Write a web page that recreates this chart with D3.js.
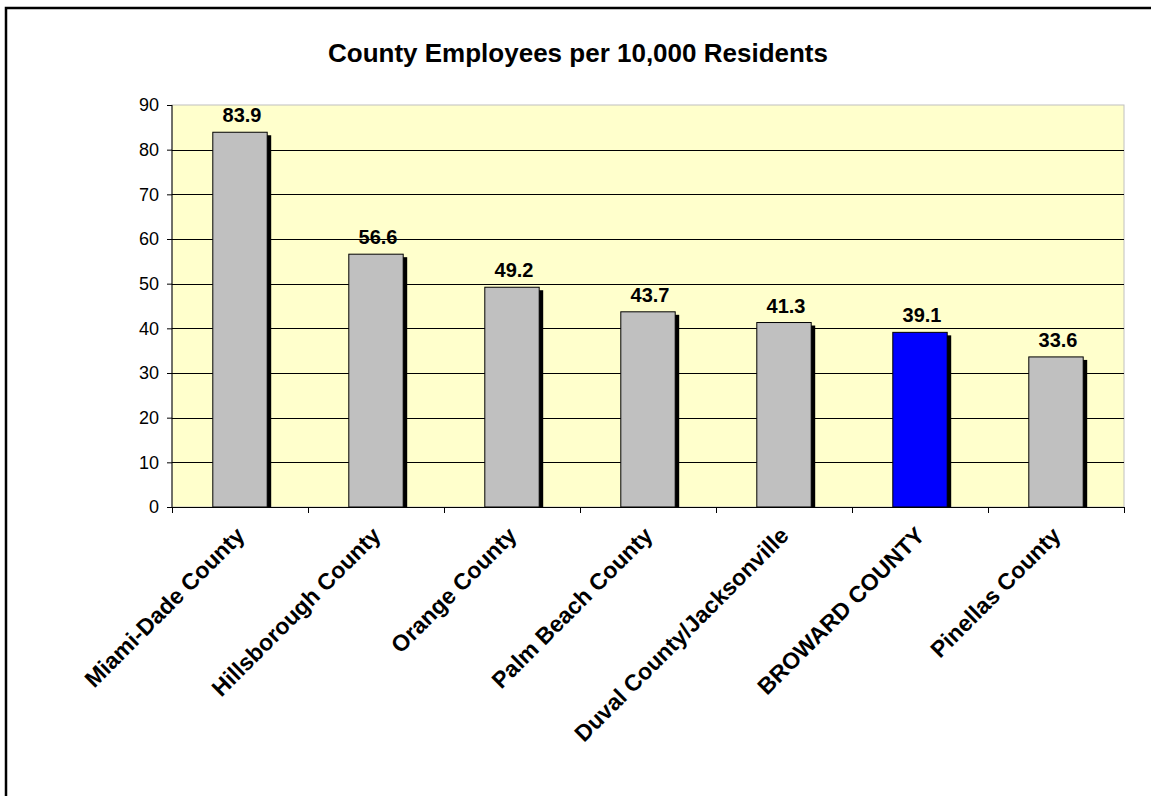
<!DOCTYPE html>
<html>
<head>
<meta charset="utf-8">
<script src="https://cdn.jsdelivr.net/npm/d3@7"></script>
<style>
  body { margin: 0; background: #fff; }
  svg { display: block; font-family: "Liberation Sans", Arial, sans-serif; }
</style>
</head>
<body>
<div id="chart"></div>
<script>
// chart data
var counties = ["Miami-Dade County", "Hillsborough County", "Orange County", "Palm Beach County",
                "Duval County/Jacksonville", "BROWARD COUNTY", "Pinellas County"];
var employees = [83.9, 56.6, 49.2, 43.7, 41.3, 39.1, 33.6];
var highlight = ["BROWARD COUNTY"];
var yTicks = [0, 10, 20, 30, 40, 50, 60, 70, 80, 90];
var title = "County Employees per 10,000 Residents";

var data = counties.map(function(c, i) { return { name: c, value: employees[i] }; });

var W = 1151, H = 796;
var margin = {top: 105, right: 27, bottom: 289, left: 172},
    width = W - margin.left - margin.right,
    height = H - margin.top - margin.bottom;

var root = d3.select("#chart").append("svg")
    .attr("width", W)
    .attr("height", H);

// outer chart border
root.append("rect")
    .attr("x", 6).attr("y", 8)
    .attr("width", 1300).attr("height", 1000)
    .attr("fill", "none")
    .attr("stroke", "#000")
    .attr("stroke-width", 2.5);

root.append("text")
    .attr("x", 578).attr("y", 62)
    .attr("text-anchor", "middle")
    .attr("font-size", 26)
    .attr("font-weight", "bold")
    .text(title);

var svg = root.append("g")
    .attr("transform", "translate(" + margin.left + "," + margin.top + ")");

var x = d3.scaleBand()
    .domain(counties)
    .range([0, width])
    .paddingInner(0.6)
    .paddingOuter(0.3);

var y = d3.scaleLinear()
    .domain([0, 90])
    .range([height, 0]);

// plot background
svg.append("rect")
    .attr("width", width).attr("height", height)
    .attr("fill", "#FFFFCC")
    .attr("stroke", "#C0C0C0")
    .attr("stroke-width", 1);

// gridlines
svg.append("g")
  .selectAll("line")
  .data(yTicks.filter(function(d) { return d > 0 && d < 90; }))
  .join("line")
    .attr("x1", 0).attr("x2", width)
    .attr("y1", function(d) { return Math.round(y(d)) + 0.5; })
    .attr("y2", function(d) { return Math.round(y(d)) + 0.5; })
    .attr("stroke", "#000")
    .attr("stroke-width", 1);

// shadows
svg.append("g")
  .selectAll("rect")
  .data(data)
  .join("rect")
    .attr("x", function(d) { return x(d.name) + 4; })
    .attr("y", function(d) { return y(d.value) + 3; })
    .attr("width", x.bandwidth())
    .attr("height", function(d) { return height - y(d.value) - 3; })
    .attr("fill", "#000");

// bars
svg.append("g")
  .selectAll("rect")
  .data(data)
  .join("rect")
    .attr("x", function(d) { return x(d.name); })
    .attr("y", function(d) { return y(d.value); })
    .attr("width", x.bandwidth())
    .attr("height", function(d) { return height - y(d.value); })
    .attr("fill", function(d) { return highlight.indexOf(d.name) >= 0 ? "#0000FF" : "#C0C0C0"; })
    .attr("stroke", "#000")
    .attr("stroke-width", 1);

// value labels
svg.append("g")
  .selectAll("text")
  .data(data)
  .join("text")
    .attr("x", function(d) { return x(d.name) + x.bandwidth() / 2 + 2; })
    .attr("y", function(d) { return y(d.value) - 10; })
    .attr("text-anchor", "middle")
    .attr("font-size", 20)
    .attr("font-weight", "bold")
    .text(function(d) { return d.value.toFixed(1); });

// Y axis
var yAxis = svg.append("g")
    .call(d3.axisLeft(y).tickValues(yTicks).tickSize(5).tickPadding(8));
yAxis.select(".domain").attr("stroke", "#000").attr("d", "M0," + height + "V0");
yAxis.selectAll("text").attr("font-size", 18).attr("font-family", "Liberation Sans, Arial, sans-serif").attr("fill", "#000");

// X axis: line + ticks at band boundaries
var bounds = d3.range(counties.length + 1).map(function(i) { return i * width / counties.length; });
var xAxis = svg.append("g").attr("transform", "translate(0," + height + ")");
xAxis.append("line")
    .attr("x1", 0).attr("x2", width)
    .attr("y1", 0.5).attr("y2", 0.5)
    .attr("stroke", "#000");
xAxis.selectAll(".tk")
  .data(bounds)
  .join("line")
    .attr("class", "tk")
    .attr("x1", function(d) { return Math.round(d) + 0.5; })
    .attr("x2", function(d) { return Math.round(d) + 0.5; })
    .attr("y1", 0).attr("y2", 6)
    .attr("stroke", "#000");

xAxis.selectAll(".lbl")
  .data(counties)
  .join("text")
    .attr("class", "lbl")
    .attr("transform", function(d) {
        return "translate(" + (x(d) + x.bandwidth() / 2 + 6) + ",30) rotate(-45)";
    })
    .attr("text-anchor", "end")
    .attr("font-size", 23)
    .attr("font-weight", "bold")
    .text(function(d) { return d; });
</script>
</body>
</html>
